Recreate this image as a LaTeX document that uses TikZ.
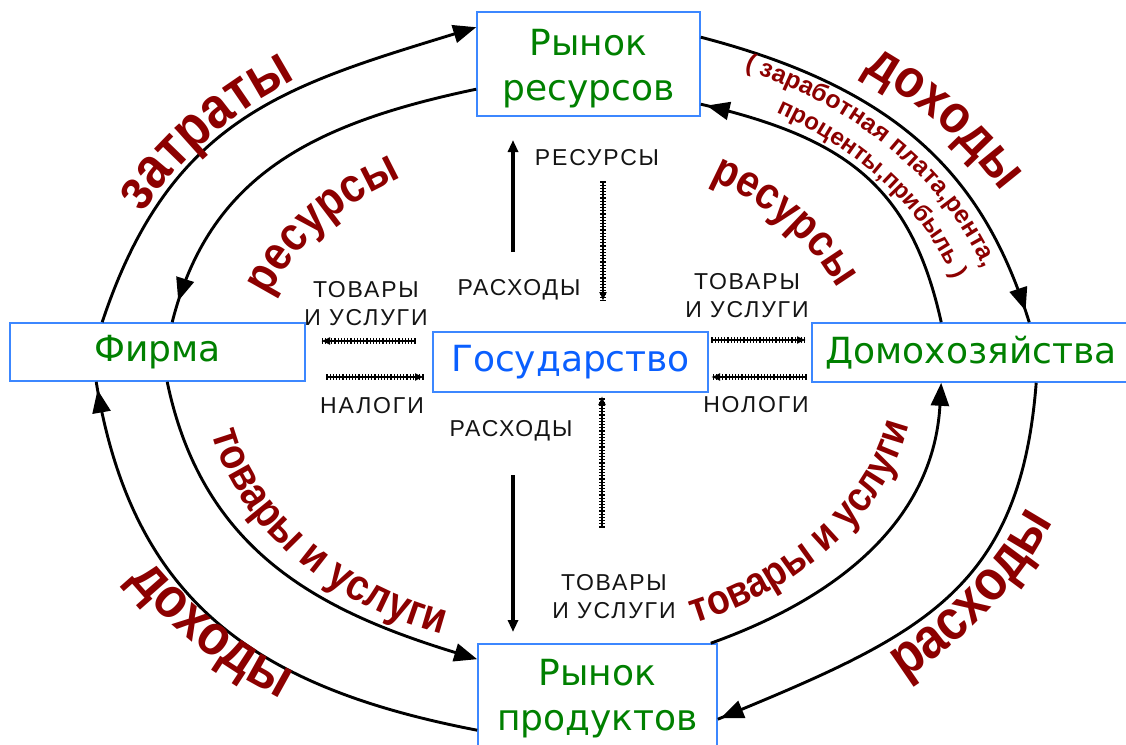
\documentclass[tikz,border=0pt]{standalone}
\usepackage{fontspec}
\setmainfont{DejaVu Sans}
\newfontfamily\redf{Liberation Sans}[FakeStretch=0.88]
\newfontfamily\parenf{Liberation Sans}
\newfontfamily\lblf{Liberation Sans}[LetterSpace=8]
\usetikzlibrary{arrows.meta,decorations.text,decorations.markings,decorations.pathreplacing}
\definecolor{boxblue}{RGB}{60,135,255}
\definecolor{titlegreen}{RGB}{0,128,0}
\definecolor{titleblue}{RGB}{10,95,255}
\definecolor{wordred}{RGB}{140,0,0}
\definecolor{lblgray}{RGB}{20,20,20}
\newcommand\bigword{\redf\bfseries\fontsize{57}{60}\selectfont}
\newcommand\incword{\redf\bfseries\fontsize{54}{60}\selectfont}
\newcommand\zatword{\redf\bfseries\fontsize{58}{60}\selectfont}
\newcommand\midword{\redf\bfseries\fontsize{48}{50}\selectfont}
\newcommand\midwordb{\redf\bfseries\fontsize{45}{50}\selectfont}
\newcommand\goodsword{\redf\bfseries\fontsize{42}{44}\selectfont}
\newcommand\goodswordb{\redf\bfseries\fontsize{44}{46}\selectfont}
\newcommand\smallword{\parenf\bfseries\fontsize{24}{28}\selectfont}
\newcommand\smallwordb{\parenf\bfseries\fontsize{25}{28}\selectfont}
\tikzset{
  box/.style={draw=boxblue, line width=1.6pt, fill=white, inner sep=0pt},
  title/.style={font=\fontsize{36}{45}\selectfont, text=titlegreen, align=center, inner sep=0pt},
  lbl/.style={font=\lblf\fontsize{23}{28}\selectfont, text=lblgray, align=center, inner sep=0pt},
  flow/.style={line width=2.9pt, draw=black},
  bigtip/.style={-{Triangle[length=23pt,width=18pt]}},
  tipat/.style={postaction={decorate, decoration={markings, mark=at position #1 with {\arrow{Triangle[length=23pt,width=18pt]}}}}},
  solidarrow/.style={line width=3.3pt, -{Triangle[length=12pt,width=10pt]}},
  tickarrow/.style={line width=1.4pt, -{Latex[length=9pt,width=8pt]}, postaction={draw, line width=1.1pt, arrows=-, decorate, decoration={ticks, segment length=3.2pt, amplitude=2.6pt}}},
  curvetext/.style={decorate, decoration={text along path, text align=center, text color=wordred, text={#1}}}
}
\begin{document}
\begin{tikzpicture}[x=1pt,y=-1pt]
\useasboundingbox (0,0) rectangle (1126,744);
% boxes
\node[box, minimum width=223pt, minimum height=104pt] (RR) at (588.5,64) {};
\node[title] (RRt) at (588.5,69) {Рынок\\ресурсов};
\node[box, title, minimum width=295pt, minimum height=58pt] (FI) at (157.5,352) {Фирма};
\node[box, title, minimum width=318pt, minimum height=59pt] (HH) at (971,352.5) {Домохозяйства};
\node[box, title, text=titleblue, minimum width=275pt, minimum height=60pt] (GS) at (570.5,362) {Государство};
\node[box, minimum width=239pt, minimum height=116pt] (RP) at (597.5,702) {};
\node[title] (RPt) at (597.5,699) {Рынок\\продуктов};
% small labels
\node[lbl] (l1) at (597,158) {РЕСУРСЫ};
\node[lbl] (l2) at (519,290) {РАСХОДЫ};
\node[lbl] (l3) at (366,304) {ТОВАРЫ\\И УСЛУГИ};
\node[lbl] (l4) at (372,406) {НАЛОГИ};
\node[lbl] (l5) at (511,431) {РАСХОДЫ};
\node[lbl] (l6) at (747,296) {ТОВАРЫ\\И УСЛУГИ};
\node[lbl] (l7) at (756,405) {НОЛОГИ};
\node[lbl] (l8) at (614,597) {ТОВАРЫ\\И УСЛУГИ};
% outer and inner flows
\draw[flow, bigtip] ([xshift=93pt]FI.north west) .. controls (170,118) and (285,86) .. ([yshift=-16pt]RR.north west);
\draw[flow, tipat=-22pt] ([yshift=-78pt]RR.north west) .. controls (310,124) and (209,177) .. ([xshift=163pt]FI.north west);
\draw[flow, tipat=-12pt] ([yshift=-26pt]RR.north east) .. controls (904,90) and (985,180) .. ([xshift=218pt]HH.north west);
\draw[flow, tipat=-6pt] ([xshift=130pt]HH.north west) .. controls (911,186) and (846,138) .. ([yshift=-93pt]RR.north east);
\draw[flow, bigtip] ([xshift=-7pt]RP.north east) .. controls (851,593) and (934,512) .. ([xshift=130pt]HH.south west);
\draw[flow, tipat=-3pt] ([xshift=225pt]HH.south west) .. controls (1020,592) and (920,636) .. ([yshift=-76pt]RP.north east);
\draw[flow, tipat=-8pt] ([yshift=-87pt]RP.north west) .. controls (253,687) and (132,600) .. ([xshift=87pt]FI.south west);
\draw[flow, bigtip] ([xshift=158pt]FI.south west) .. controls (202,549) and (316,610) .. ([yshift=-16pt]RP.north west);
% straight arrows around the state
\coordinate (ua1) at (513,252); \coordinate (ua2) at (513,140);
\coordinate (ub1) at (603,182); \coordinate (ub2) at (603,301);
\coordinate (la1) at (602,527); \coordinate (la2) at (602,396);
\coordinate (lb1) at (513,475); \coordinate (lb2) at (513,632);
\coordinate (h1a) at (415,341); \coordinate (h1b) at (321,341);
\coordinate (h2a) at (327,377); \coordinate (h2b) at (424,377);
\coordinate (h3a) at (712,340); \coordinate (h3b) at (806,340);
\coordinate (h4a) at (806,377); \coordinate (h4b) at (711,377);
\draw[solidarrow] (ua1) -- (ua2);
\draw[solidarrow] (lb1) -- (lb2);
\draw[tickarrow] (ub1) -- (ub2);
\draw[tickarrow] (la1) -- (la2);
\draw[tickarrow] (h1a) -- (h1b);
\draw[tickarrow] (h2a) -- (h2b);
\draw[tickarrow] (h3a) -- (h3b);
\draw[tickarrow] (h4a) -- (h4b);
% curved red words
\path[curvetext={|\zatword|затраты}] ([shift={(567,377)}]184:476 and 362) arc[start angle=184, end angle=254, x radius=476, y radius=362];
\path[curvetext={|\midword|ресурсы}] ([shift={(556,375)}]183:305 and 229) arc[start angle=183, end angle=253, x radius=305, y radius=229];
\path[curvetext={|\incword|доходы}] ([shift={(567,377)}]286:497 and 381) arc[start angle=286, end angle=356, x radius=497, y radius=381];
\path[curvetext={|\midwordb|ресурсы}] ([shift={(556,375)}]286:304 and 227) arc[start angle=286, end angle=356, x radius=304, y radius=227];
\path[curvetext={|\smallwordb|( заработная плата,рента,}] ([shift={(567,377)}]282:440 and 336) arc[start angle=282, end angle=356, x radius=440, y radius=336];
\path[curvetext={|\smallword|проценты,прибыль )}] ([shift={(567,377)}]287:408 and 308) arc[start angle=287, end angle=359, x radius=408, y radius=308];
\path[curvetext={|\goodsword|товары и услуги}] ([shift={(556,375)}]80:359 and 269) arc[start angle=80, end angle=-6, x radius=359, y radius=269];
\path[curvetext={|\bigword|расходы}] ([shift={(567,377)}]72:522 and 396) arc[start angle=72, end angle=-6, x radius=522, y radius=396];
\path[curvetext={|\goodswordb|товары и услуги}] ([shift={(556,375)}]184:352 and 274) arc[start angle=184, end angle=96, x radius=352, y radius=274];
\path[curvetext={|\bigword|доходы}] ([shift={(567,377)}]178:514 and 387) arc[start angle=178, end angle=100, x radius=514, y radius=387];
\end{tikzpicture}
\end{document}
